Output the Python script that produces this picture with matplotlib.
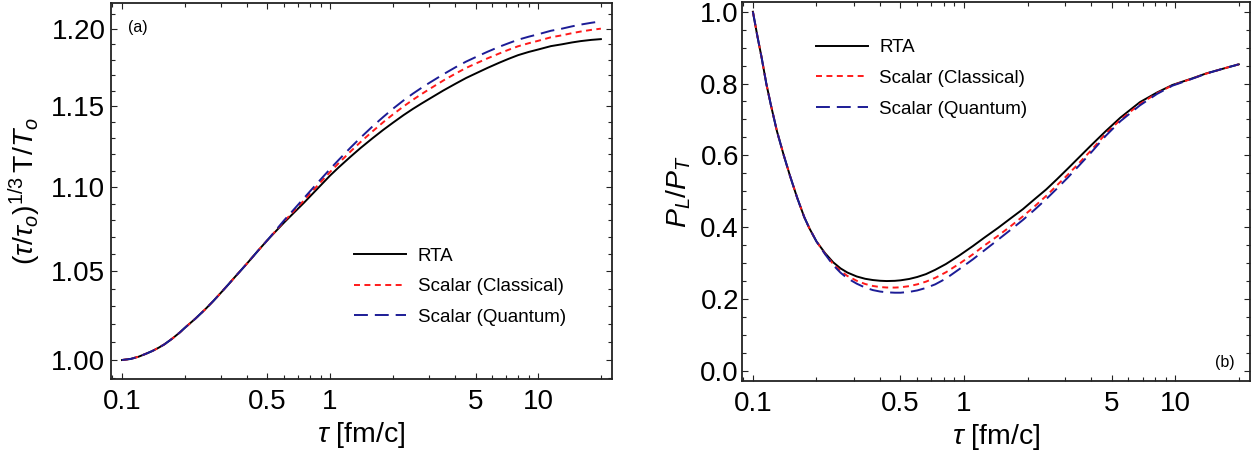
import matplotlib
matplotlib.use("Agg")
import matplotlib.pyplot as plt
from matplotlib.ticker import FixedLocator, NullFormatter, FixedFormatter

# ---------------- data ----------------
# Panel (a): (tau/tau0)^(1/3) T/T0 vs tau [fm/c]
tau_a_common = [0.10, 0.11, 0.12, 0.13, 0.14, 0.15, 0.16, 0.175, 0.19, 0.20,
                0.225, 0.25, 0.275, 0.30, 0.325, 0.35, 0.375, 0.40, 0.45, 0.50]
val_a_common = [1.0000, 1.0006, 1.0018, 1.0034, 1.0050, 1.0068, 1.0087, 1.0120,
                1.0154, 1.0178, 1.0230, 1.0281, 1.0331, 1.0380, 1.0426, 1.0470,
                1.0510, 1.0548, 1.0620, 1.0683]
tau_a_late = [0.55, 0.6, 0.65, 0.7, 0.75, 0.85, 1.0, 1.1, 1.25, 1.4, 1.6, 1.8,
              2.0, 2.25, 2.5, 2.75, 3.0, 3.5, 4.0, 4.5, 5.0, 5.7, 6.5, 7.2, 8.0,
              9.0, 10.0, 11.5, 13.0, 14.5, 16.0, 18.0, 20.0]
rta_a_late = [1.0737, 1.0786, 1.0829, 1.0869, 1.0906, 1.0977, 1.1070, 1.1120,
              1.1184, 1.1239, 1.1300, 1.1352, 1.1396, 1.1444, 1.1484, 1.1518,
              1.1548, 1.1601, 1.1644, 1.1681, 1.1710, 1.1746, 1.1780, 1.1805,
              1.1829, 1.1850, 1.1866, 1.1888, 1.1900, 1.1912, 1.1921, 1.1929,
              1.1934]
cls_a_late = [1.0740, 1.0793, 1.0838, 1.0881, 1.0920, 1.0995, 1.1092, 1.1146,
              1.1216, 1.1276, 1.1343, 1.1400, 1.1448, 1.1499, 1.1542, 1.1578,
              1.1610, 1.1665, 1.1709, 1.1746, 1.1774, 1.1808, 1.1840, 1.1864,
              1.1887, 1.1907, 1.1923, 1.1946, 1.1959, 1.1973, 1.1984, 1.1995,
              1.2003]
qnt_a_late = [1.0743, 1.0799, 1.0847, 1.0892, 1.0934, 1.1011, 1.1110, 1.1166,
              1.1240, 1.1303, 1.1374, 1.1433, 1.1484, 1.1537, 1.1581, 1.1618,
              1.1650, 1.1705, 1.1750, 1.1787, 1.1816, 1.1851, 1.1884, 1.1907,
              1.1930, 1.1950, 1.1966, 1.1989, 1.2003, 1.2018, 1.2030, 1.2042,
              1.2051]

# Panel (b): P_L/P_T vs tau [fm/c]
tau_b_common = [0.100, 0.105, 0.110, 0.1157, 0.122, 0.130, 0.140, 0.150, 0.162,
                0.175, 0.185, 0.200]
val_b_common = [1.000, 0.932, 0.872, 0.800, 0.737, 0.667, 0.600, 0.542, 0.482,
                0.428, 0.397, 0.360]
tau_b_late = [0.22, 0.24, 0.26, 0.28, 0.31, 0.34, 0.37, 0.40, 0.43, 0.47, 0.50,
              0.55, 0.60, 0.66, 0.73, 0.82, 0.95, 1.1, 1.25, 1.45, 1.65, 1.9,
              2.15, 2.45, 2.75, 3.1, 3.5, 4.0, 4.7, 5.5, 6.8, 8.2, 9.7, 12.0,
              14.0, 17.0, 20.0]
rta_b_late = [0.327, 0.302, 0.285, 0.2735, 0.2625, 0.256, 0.2525, 0.2505, 0.2497,
              0.2503, 0.2517, 0.2555, 0.261, 0.269, 0.281, 0.297, 0.321, 0.347,
              0.371, 0.398, 0.423, 0.450, 0.477, 0.505, 0.533, 0.563, 0.594,
              0.628, 0.668, 0.705, 0.748, 0.775, 0.796, 0.814, 0.828, 0.842,
              0.8535]
cls_b_late = [0.325, 0.297, 0.278, 0.264, 0.2505, 0.2415, 0.236, 0.233, 0.2317,
              0.2315, 0.2323, 0.2355, 0.2405, 0.248, 0.2585, 0.274, 0.298, 0.324,
              0.349, 0.376, 0.401, 0.430, 0.457, 0.487, 0.516, 0.546, 0.578,
              0.614, 0.661, 0.699, 0.743, 0.773, 0.795, 0.8135, 0.8275, 0.842,
              0.8535]
qnt_b_late = [0.324, 0.294, 0.273, 0.2575, 0.2425, 0.2315, 0.2245, 0.2205, 0.2183,
              0.2172, 0.2172, 0.2195, 0.2235, 0.2305, 0.2405, 0.2565, 0.283, 0.310,
              0.3355, 0.365, 0.391, 0.420, 0.4475, 0.478, 0.507, 0.538, 0.571,
              0.608, 0.655, 0.695, 0.739, 0.771, 0.794, 0.813, 0.8275, 0.842,
              0.8535]

labels = ["RTA", "Scalar (Classical)", "Scalar (Quantum)"]
x_major = [0.1, 0.5, 1, 5, 10]
x_major_labels = ["0.1", "0.5", "1", "5", "10"]
x_minor = [0.09, 0.2, 0.3, 0.4, 0.6, 0.7, 0.8, 0.9, 2, 3, 4, 6, 7, 8, 9, 20]
ya_major = [1.00, 1.05, 1.10, 1.15, 1.20]
ya_major_labels = ["1.00", "1.05", "1.10", "1.15", "1.20"]
ya_minor = [0.99, 1.01, 1.02, 1.03, 1.04, 1.06, 1.07, 1.08, 1.09, 1.11, 1.12,
            1.13, 1.14, 1.16, 1.17, 1.18, 1.19, 1.21]
yb_major = [0.0, 0.2, 0.4, 0.6, 0.8, 1.0]
yb_major_labels = ["0.0", "0.2", "0.4", "0.6", "0.8", "1.0"]
yb_minor = [-0.05, 0.05, 0.1, 0.15, 0.25, 0.3, 0.35, 0.45, 0.5, 0.55, 0.65, 0.7,
            0.75, 0.85, 0.9, 0.95, 1.05]

# ---------------- style ----------------
plt.rcParams['font.family'] = ['Liberation Sans', 'DejaVu Sans']
plt.rcParams['mathtext.fontset'] = 'custom'
plt.rcParams['mathtext.rm'] = 'Liberation Sans'
plt.rcParams['mathtext.it'] = 'Liberation Sans:italic'
plt.rcParams['mathtext.bf'] = 'Liberation Sans:bold'
plt.rcParams['lines.scale_dashes'] = False

BLACK = '#000000'
RED = '#ff1a1a'
BLUE = '#1c1c96'
LW = 1.4
styles = [
    dict(color=BLACK, lw=LW, ls='-'),
    dict(color=RED, lw=LW, ls=(0, (4.3, 3.2))),
    dict(color=BLUE, lw=LW, ls=(0, (10.0, 5.0))),
]

TICK_FS = 20
LABEL_FS = 20.5
LEG_FS = 13.5

fig = plt.figure(figsize=(12.55, 4.59), dpi=100)
ax1 = fig.add_axes([0.0884, 0.1743, 0.3992, 0.8192])
ax2 = fig.add_axes([0.5910, 0.1700, 0.4050, 0.8263])


def style_axes(ax):
    for sp in ax.spines.values():
        sp.set_linewidth(1.3)
        sp.set_color('#222222')
    ax.tick_params(which='both', direction='in', top=True, right=True,
                   width=0.8, color='#222222', labelsize=TICK_FS)
    ax.tick_params(which='major', length=4.5)
    ax.tick_params(which='minor', length=2.8)
    ax.set_xscale('log')
    ax.xaxis.set_major_locator(FixedLocator(x_major))
    ax.xaxis.set_major_formatter(FixedFormatter(x_major_labels))
    ax.xaxis.set_minor_locator(FixedLocator(x_minor))
    ax.xaxis.set_minor_formatter(NullFormatter())
    ax.tick_params(axis='x', which='major', pad=7)
    ax.set_xlim(0.0885, 22.6)
    ax.set_xlabel(r'$\tau$ [fm/c]', fontsize=LABEL_FS, labelpad=4)


# ---- panel (a)
style_axes(ax1)
ax1.set_yscale('log')
for vals, st, lab in zip([rta_a_late, cls_a_late, qnt_a_late], styles, labels):
    ax1.plot(tau_a_common + tau_a_late, val_a_common + vals, label=lab, **st)
ax1.yaxis.set_major_locator(FixedLocator(ya_major))
ax1.yaxis.set_major_formatter(FixedFormatter(ya_major_labels))
ax1.yaxis.set_minor_locator(FixedLocator(ya_minor))
ax1.yaxis.set_minor_formatter(NullFormatter())
ax1.tick_params(axis='y', which='major', pad=4)
ax1.set_ylim(0.9896, 1.2174)
ax1.set_ylabel(r'$(\tau/\tau_o)^{1/3}\,\mathrm{T}/T_o$', fontsize=LABEL_FS, labelpad=6)
ax1.text(0.034, 0.936, '(a)', transform=ax1.transAxes, fontsize=11.5,
         ha='left', va='center')
ax1.legend(loc='upper left', bbox_to_anchor=(0.485, 0.350), frameon=False,
           fontsize=LEG_FS, handlelength=2.8, handletextpad=0.6,
           labelspacing=0.72, borderpad=0, borderaxespad=0)

# ---- panel (b)
style_axes(ax2)
for vals, st, lab in zip([rta_b_late, cls_b_late, qnt_b_late], styles, labels):
    ax2.plot(tau_b_common + tau_b_late, val_b_common + vals, label=lab, **st)
ax2.yaxis.set_major_locator(FixedLocator(yb_major))
ax2.yaxis.set_major_formatter(FixedFormatter(yb_major_labels))
ax2.yaxis.set_minor_locator(FixedLocator(yb_minor))
ax2.yaxis.set_minor_formatter(NullFormatter())
ax2.tick_params(axis='y', which='major', pad=2)
ax2.set_ylim(-0.0287, 1.028)
ax2.set_ylabel(r'$P_L/P_T$', fontsize=LABEL_FS, labelpad=5)
ax2.text(0.970, 0.05, '(b)', transform=ax2.transAxes, fontsize=11.5,
         ha='right', va='center')
ax2.legend(loc='upper left', bbox_to_anchor=(0.1456, 0.901), frameon=False,
           fontsize=LEG_FS, handlelength=2.8, handletextpad=0.6,
           labelspacing=0.72, borderpad=0, borderaxespad=0)

fig.savefig('out.png', dpi=100)
